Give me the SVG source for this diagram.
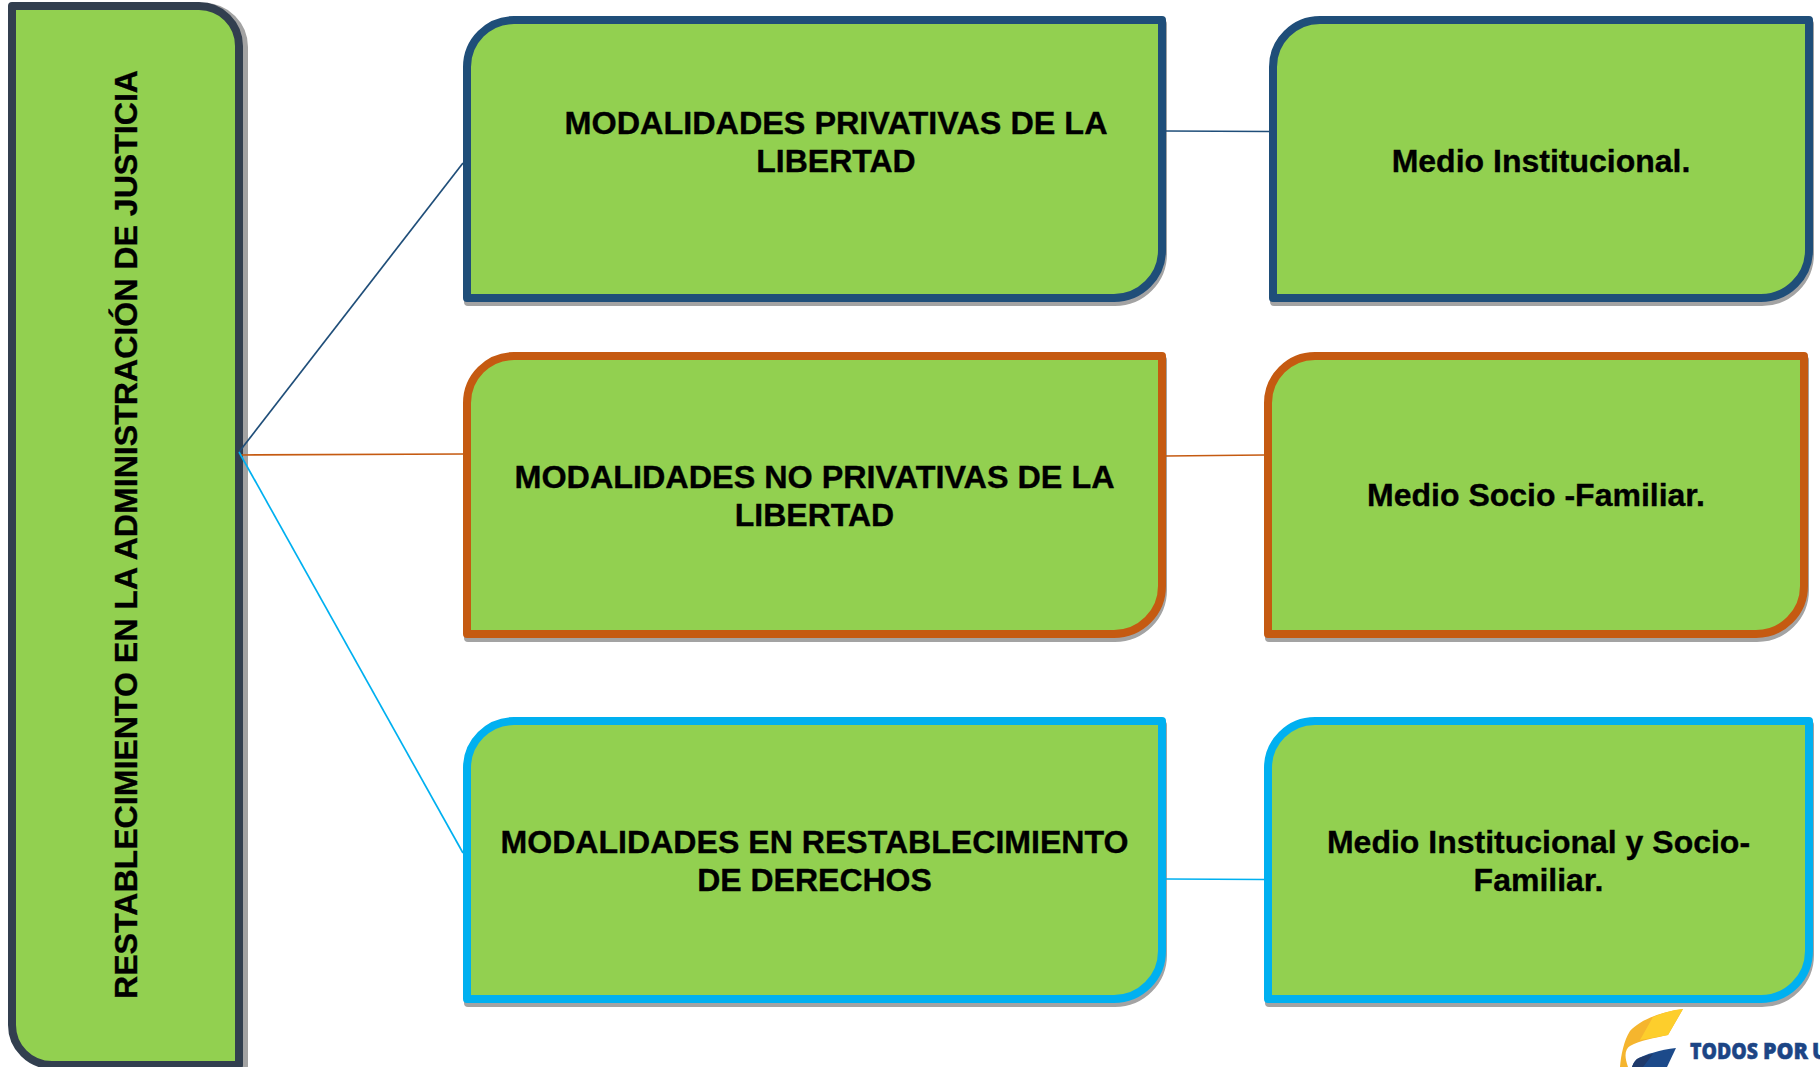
<svg xmlns="http://www.w3.org/2000/svg" width="1820" height="1067" viewBox="0 0 1820 1067">
<style>
.n{fill:#92d050;stroke-width:8;stroke-linejoin:round}
.s{fill:#a3a3a3;stroke:#a3a3a3;stroke-width:8;stroke-linejoin:round}
.t{font-family:"Liberation Sans",Arial,sans-serif;font-weight:700;font-size:32px;fill:#000;stroke:#000;stroke-width:.35;text-anchor:middle}
.c{fill:none;stroke-width:1.7}
.l{font-family:"Open Sans","Liberation Sans",sans-serif;font-weight:800;font-size:22.5px;fill:#1c4585;stroke:#1c4585;stroke-width:.5}
</style>
<rect width="1820" height="1067" fill="#fff"/>
<g id="node-root">
<path class="s" transform="translate(5,1)" d="M12 6H199A40 40 0 0 1 239 46V1065H52A40 40 0 0 1 12 1025Z"/>
<path class="n" stroke="#323f4f" d="M12 6H199A40 40 0 0 1 239 46V1065H52A40 40 0 0 1 12 1025Z"/>
<text class="t" transform="translate(137,534.5) rotate(-90)" textLength="929" lengthAdjust="spacingAndGlyphs">RESTABLECIMIENTO EN LA ADMINISTRACIÓN DE JUSTICIA</text>
</g>
<g id="node-a1">
<path class="s" transform="translate(1,4)" d="M514 20H1162V250A48 48 0 0 1 1114 298H467V67A47 47 0 0 1 514 20Z"/>
<path class="n" stroke="#1f4e79" d="M514 20H1162V250A48 48 0 0 1 1114 298H467V67A47 47 0 0 1 514 20Z"/>
<text class="t" x="836" y="133.500" textLength="543" lengthAdjust="spacingAndGlyphs">MODALIDADES PRIVATIVAS DE LA</text>
<text class="t" x="836" y="171.500">LIBERTAD</text>
</g>
<g id="node-a2">
<path class="s" transform="translate(1,4)" d="M1320 20H1809V250A48 48 0 0 1 1761 298H1273V67A47 47 0 0 1 1320 20Z"/>
<path class="n" stroke="#1f4e79" d="M1320 20H1809V250A48 48 0 0 1 1761 298H1273V67A47 47 0 0 1 1320 20Z"/>
<text class="t" x="1541" y="171.500">Medio Institucional.</text>
</g>
<g id="node-b1">
<path class="s" transform="translate(1,4)" d="M514 356H1162V586A48 48 0 0 1 1114 634H467V403A47 47 0 0 1 514 356Z"/>
<path class="n" stroke="#c55a11" d="M514 356H1162V586A48 48 0 0 1 1114 634H467V403A47 47 0 0 1 514 356Z"/>
<text class="t" x="814.500" y="487.500" textLength="600" lengthAdjust="spacingAndGlyphs">MODALIDADES NO PRIVATIVAS DE LA</text>
<text class="t" x="814.500" y="525.500">LIBERTAD</text>
</g>
<g id="node-b2">
<path class="s" transform="translate(1,4)" d="M1315 356H1804V586A48 48 0 0 1 1756 634H1268V403A47 47 0 0 1 1315 356Z"/>
<path class="n" stroke="#c55a11" d="M1315 356H1804V586A48 48 0 0 1 1756 634H1268V403A47 47 0 0 1 1315 356Z"/>
<text class="t" x="1536" y="505.500">Medio Socio -Familiar.</text>
</g>
<g id="node-c1">
<path class="s" transform="translate(1,4)" d="M514 721H1162V951A48 48 0 0 1 1114 999H467V768A47 47 0 0 1 514 721Z"/>
<path class="n" stroke="#00b0f0" d="M514 721H1162V951A48 48 0 0 1 1114 999H467V768A47 47 0 0 1 514 721Z"/>
<text class="t" x="814.500" y="852.500" textLength="628" lengthAdjust="spacingAndGlyphs">MODALIDADES EN RESTABLECIMIENTO</text>
<text class="t" x="814.500" y="890.500">DE DERECHOS</text>
</g>
<g id="node-c2">
<path class="s" transform="translate(1,4)" d="M1315 721H1809V951A48 48 0 0 1 1761 999H1268V768A47 47 0 0 1 1315 721Z"/>
<path class="n" stroke="#00b0f0" d="M1315 721H1809V951A48 48 0 0 1 1761 999H1268V768A47 47 0 0 1 1315 721Z"/>
<text class="t" x="1538.500" y="852.500">Medio Institucional y Socio-</text>
<text class="t" x="1538.500" y="890.500">Familiar.</text>
</g>
<g id="connectors">
<line class="c" x1="239" y1="452" x2="463" y2="163" stroke="#1f4e79"/>
<line class="c" x1="240" y1="455" x2="463" y2="454" stroke="#c55a11"/>
<line class="c" x1="239" y1="452" x2="463" y2="853" stroke="#00b0f0"/>
<line class="c" x1="1166" y1="131" x2="1269" y2="131.500" stroke="#1f4e79"/>
<line class="c" x1="1166" y1="456" x2="1264" y2="455" stroke="#c55a11"/>
<line class="c" x1="1166" y1="879" x2="1264" y2="879.500" stroke="#00b0f0"/>
</g>
<g id="logo">
<path d="M1683 1009C1660 1012 1640 1020 1630 1031C1624 1040 1621 1055 1620 1067H1628C1624 1056 1625 1049 1630 1046C1640 1040 1655 1038 1668 1035Z" fill="#f5b52e"/>
<path d="M1683 1009C1672 1010 1662 1013 1653 1017L1640 1040C1650 1038 1660 1037 1668 1035Z" fill="#fdce2c"/>
<path d="M1676 1048C1660 1050 1646 1054 1637 1059C1634 1062 1633 1064 1632 1067H1667Z" fill="#1c4a8a"/>
<path d="M1653 1054C1646 1055 1641 1057 1637 1059C1634 1062 1633 1064 1632 1067H1643Z" fill="#1f3a6b"/>
<text class="l" y="1059"><tspan x="1690" textLength="68" lengthAdjust="spacingAndGlyphs">TODOS</tspan> <tspan x="1763" textLength="45" lengthAdjust="spacingAndGlyphs">POR</tspan> <tspan x="1812" textLength="16" lengthAdjust="spacingAndGlyphs">U</tspan></text>
</g>
</svg>
